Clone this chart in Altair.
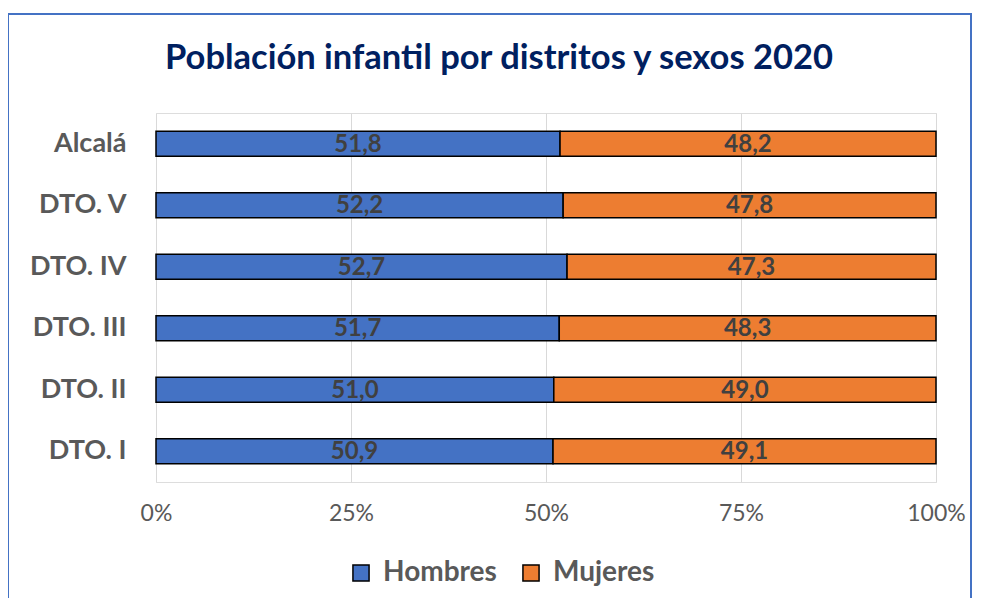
import altair as alt
import pandas as pd

districts = ["Alcalá", "DTO. V", "DTO. IV", "DTO. III", "DTO. II", "DTO. I"]
hombres = [51.8, 52.2, 52.7, 51.7, 51.0, 50.9]
mujeres = [48.2, 47.8, 47.3, 48.3, 49.0, 49.1]
series = ["Hombres", "Mujeres"]
colors = ["#4472C4", "#ED7D31"]
x_ticks = [0, 0.25, 0.5, 0.75, 1.0]

rows = []
for d, h, m in zip(districts, hombres, mujeres):
    rows.append({"district": d, "sex": "Hombres", "value": h, "order": 0})
    rows.append({"district": d, "sex": "Mujeres", "value": m, "order": 1})
df = pd.DataFrame(rows)

FONT = "Lato"
GREY = "#595959"

base = alt.Chart(df).transform_stack(
    stack="value", as_=["v0", "v1"], groupby=["district"],
    offset="normalize", sort=[alt.SortField("order", order="ascending")]
).transform_calculate(
    mid="(datum.v0 + datum.v1) / 2",
    label="replace(format(datum.value, '.1f'), '.', ',')"
)

y_enc = alt.Y("district:N", sort=districts, title=None,
              scale=alt.Scale(paddingInner=0.59, paddingOuter=0.295),
              axis=alt.Axis(labelFont=FONT, labelFontSize=27, labelFontWeight="bold",
                            labelColor=GREY, labelPadding=30, ticks=False, domain=False))

bars = base.mark_bar(stroke="black", strokeWidth=1.5).encode(
    x=alt.X("v0:Q", title=None, scale=alt.Scale(domain=[0, 1], nice=False),
            axis=alt.Axis(values=x_ticks, format="%", labelFont=FONT, labelFontSize=23,
                          labelColor=GREY, labelPadding=20, ticks=False, domain=False,
                          labelFlush=False,
                          grid=True, gridColor="#d9d9d9", gridWidth=1)),
    x2="v1:Q",
    y=y_enc,
    color=alt.Color("sex:N", scale=alt.Scale(domain=series, range=colors), title=None,
                    legend=alt.Legend(orient="none", direction="horizontal",
                                      legendX=191, legendY=446,
                                      symbolType="square", symbolSize=260,
                                      symbolStrokeColor="black", symbolStrokeWidth=1.5,
                                      labelFont=FONT, labelFontSize=28, labelFontWeight="bold",
                                      labelColor=GREY, columnPadding=20, labelOffset=8))
)

labels = base.mark_text(font=FONT, fontSize=24, fontWeight="bold", color="#404040",
                        baseline="middle", dy=1).encode(
    x="mid:Q",
    y=alt.Y("district:N", sort=districts),
    text="label:N"
)

frame = alt.Chart(alt.Data(values=[{"a": 1}])).mark_rect(
    fill=None, stroke="#4472C4", strokeWidth=2, clip=False
).encode(
    x=alt.value(-148), x2=alt.value(815), y=alt.value(-99), y2=alt.value(500)
)

chart = alt.layer(frame, bars, labels).properties(
    width=780, height=369,
    autosize=alt.AutoSizeParams(type="none"),
    padding={"left": 148, "top": 105, "right": 37, "bottom": 116},
    title=alt.TitleParams("Población infantil por distritos y sexos 2020",
                          font=FONT, fontSize=34.5, fontWeight="bold", color="#002060",
                          anchor="middle", dx=-47, offset=-63)
).configure_view(stroke="black", strokeWidth=2).configure(background="white")

chart.save("out.html", embed_options={"renderer": "svg", "actions": False})
